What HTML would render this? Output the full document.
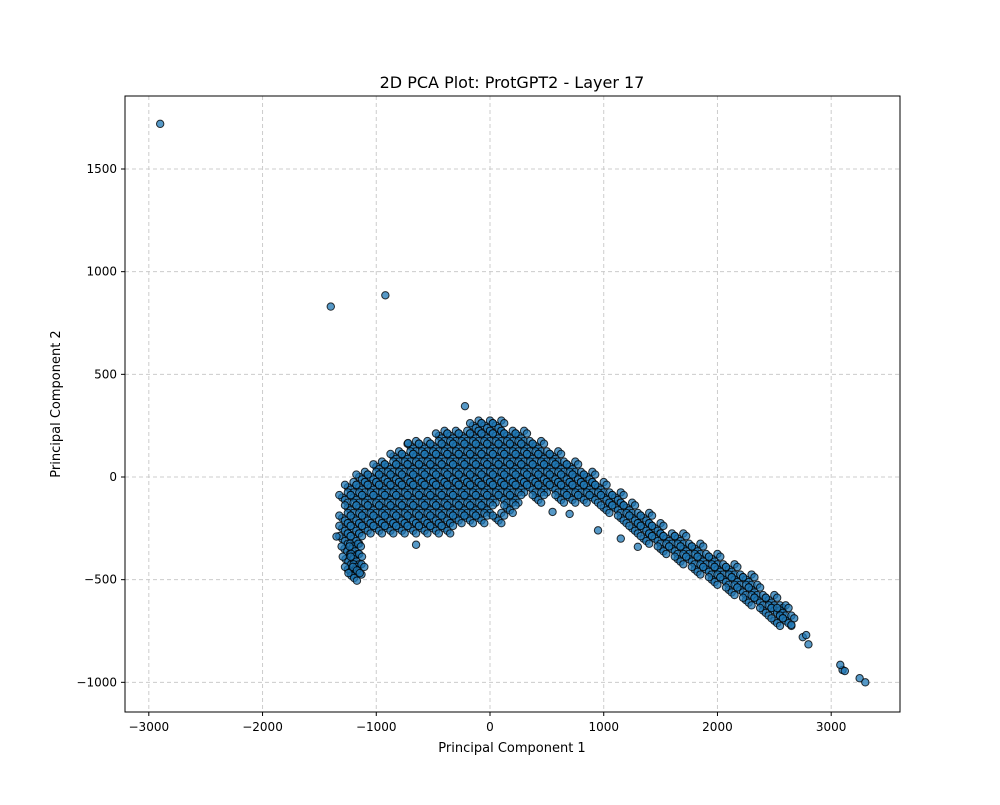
<!DOCTYPE html>
<html><head><meta charset="utf-8"><style>
body{margin:0;background:#fff;}
svg text{font-family:"DejaVu Sans","Liberation Sans",sans-serif;}
</style></head><body>
<svg width="1000" height="800" xmlns="http://www.w3.org/2000/svg">
<rect width="1000" height="800" fill="#fff"/>
<g id="grid"></g>
<g id="points"></g>
<rect x="125" y="96" width="775" height="616" fill="none" stroke="#000" stroke-width="1"/>
<g id="ticks"></g>
<text x="512" y="88" text-anchor="middle" font-size="16">2D PCA Plot: ProtGPT2 - Layer 17</text>
<text x="512" y="752" text-anchor="middle" font-size="13">Principal Component 1</text>
<text x="60" y="404" text-anchor="middle" font-size="13" transform="rotate(-90 60 404)">Principal Component 2</text>
</svg>
<script>
const xTicks=[-3000,-2000,-1000,0,1000,2000,3000];
const yTicks=[-1000,-500,0,500,1000,1500];
const rowY=[250,200,150,100,50,0,-50,-100,-150,-200,-250,-300,-350,-400,-450,-480,-500,-550,-600,-650,-700];
const rowX=[
[-150,-50,50],
[-450,-350,-250,-150,-50,50,150,250],
[-700,-600,-500,-400,-300,-200,-100,0,100,200,300,400],
[-850,-750,-650,-550,-450,-350,-250,-150,-50,50,150,250,350,450,550],
[-1000,-900,-800,-700,-600,-500,-400,-300,-200,-100,0,100,200,300,400,500,600,700],
[-1150,-1050,-950,-850,-750,-650,-550,-450,-350,-250,-150,-50,50,150,250,350,450,550,650,750,850],
[-1250,-1150,-1050,-950,-850,-750,-650,-550,-450,-350,-250,-150,-50,50,150,250,350,450,550,650,750,850,950],
[-1300,-1200,-1100,-1000,-900,-800,-700,-600,-500,-400,-300,-200,-100,0,100,200,400,600,700,800,900,1000,1100],
[-1250,-1150,-1050,-950,-850,-750,-650,-550,-450,-350,-250,-150,-50,150,1000,1100,1200],
[-1300,-1200,-1100,-1000,-900,-800,-700,-600,-500,-400,-300,-200,-100,50,1150,1250,1350],
[-1300,-1200,-1100,-1000,-900,-800,-700,-600,-500,-400,1250,1350,1450],
[-1300,-1200,1350,1450,1550,1650],
[-1280,-1210,1500,1600,1700,1800],
[-1270,-1200,1650,1750,1850,1950],
[-1250,-1180,1800,1900,2000,2100],
[-1220],
[1950,2050,2150,2250],
[2100,2200,2300],
[2250,2350,2450],
[2400,2500,2550],
[2500,2600]
];
const outX=[-2900,-1400,-920,-220,-720,3100,3250,3300,3080,3120,2750,2800,2780,2650,950,1150,1300,700,550,-1350,-650];
const outY=[1720,830,885,345,165,-940,-980,-1000,-915,-945,-780,-815,-770,-720,-260,-300,-340,-180,-170,-290,-330];
const NS='http://www.w3.org/2000/svg';
const sx=v=>490+v*0.11373;
const sy=v=>477-v*0.20533;
const grid=document.getElementById('grid'),ticks=document.getElementById('ticks'),pts=document.getElementById('points');
function mk(t,a,p){const e=document.createElementNS(NS,t);for(const k in a)e.setAttribute(k,a[k]);p.appendChild(e);return e;}
const fmt=v=>(v<0?'\u2212':'')+Math.abs(v);
xTicks.forEach(v=>{const x=sx(v);
 const g=mk('line',{x1:x,x2:x,y1:96,y2:712,stroke:'#ccc','stroke-dasharray':'4,3'},grid);
 
 
 const t=mk('line',{x1:x,x2:x,y1:712,y2:716,stroke:'#000'},ticks);
 
 
 const l=mk('text',{x:x,y:731,'text-anchor':'middle','font-size':'12'},ticks);l.textContent=fmt(v);
 
 
});
yTicks.forEach(v=>{const y=sy(v);
 const g=mk('line',{x1:125,x2:900,y1:y,y2:y,stroke:'#ccc','stroke-dasharray':'4,3'},grid);
 
 
 const t=mk('line',{x1:121,x2:125,y1:y,y2:y,stroke:'#000'},ticks);
 
 
 const l=mk('text',{x:117,y:y+4,'text-anchor':'end','font-size':'12'},ticks);l.textContent=fmt(v);
 
 
});
function dot(x,y){const c=mk('circle',{cx:sx(x),cy:sy(y),r:3.7,fill:'#1f77b4','fill-opacity':0.75,stroke:'#000','stroke-opacity':0.8,'stroke-width':1},pts);
 
 }
const spread=[[0,0],[50,25],[25,-12],[75,12],[-25,12],[50,-25]];
rowY.forEach((y,i)=>rowX[i].forEach(x=>spread.forEach(o=>dot(x+o[0],y+o[1]))));
outX.forEach((x,i)=>dot(x,outY[i]));
</script>
</body></html>
